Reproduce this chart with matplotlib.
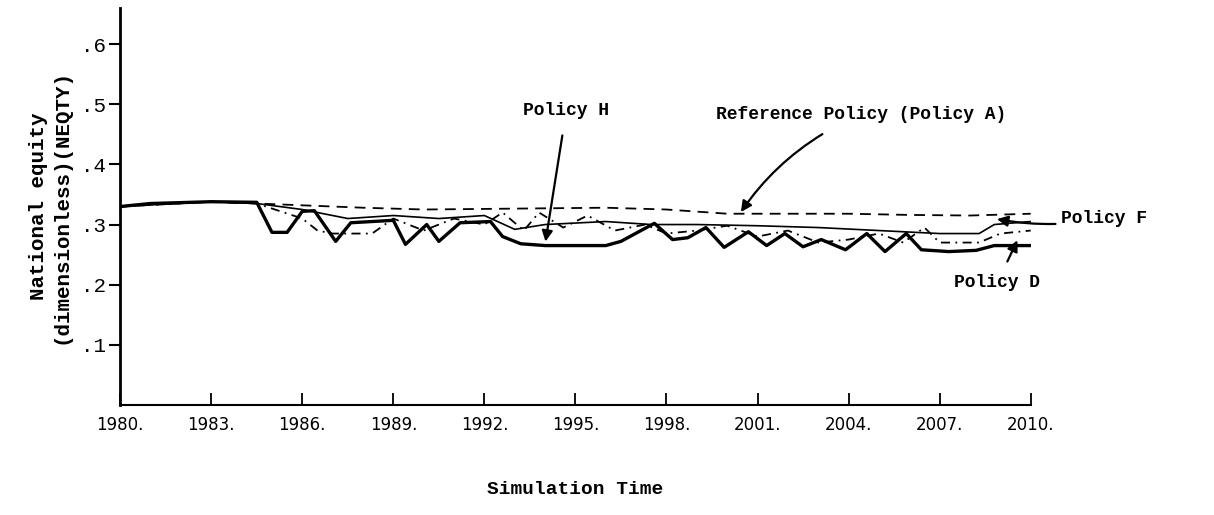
import matplotlib
matplotlib.use("Agg")
from matplotlib import pyplot as plt

# years and values
years_a = [1980, 1983, 1984.5, 1986, 1988, 1990, 1992, 1994, 1996, 1998, 2000, 2002, 2004, 2006, 2008, 2010]
pol_a = [0.330, 0.338, 0.335, 0.332, 0.328, 0.325, 0.326, 0.327, 0.328, 0.325, 0.318, 0.318, 0.318, 0.316, 0.315, 0.318]

years_f = [1980, 1983, 1984.5, 1986, 1987.5, 1989, 1990.5, 1992, 1993, 1994, 1996, 1997.5, 1999,
           2001, 2003, 2005, 2007, 2008.3, 2008.8, 2010]
pol_f = [0.330, 0.338, 0.335, 0.325, 0.310, 0.315, 0.310, 0.315, 0.292, 0.300, 0.305, 0.300, 0.300,
         0.298, 0.295, 0.290, 0.285, 0.285, 0.300, 0.305]

years_h = [1980, 1983, 1984.5, 1986, 1986.5, 1987, 1988.3, 1989, 1990, 1991, 1992, 1992.6, 1993.3,
           1993.8, 1994.6, 1995.4, 1996.3, 1997.3, 1998, 1999, 2000, 2001, 2002, 2003, 2004,
           2005, 2005.8, 2006.5, 2007, 2008.3, 2009, 2010]
pol_h = [0.330, 0.338, 0.335, 0.310, 0.290, 0.285, 0.285, 0.310, 0.290, 0.310, 0.300, 0.320, 0.290,
         0.320, 0.295, 0.315, 0.290, 0.300, 0.285, 0.290, 0.298, 0.280, 0.290, 0.270, 0.275,
         0.285, 0.270, 0.295, 0.270, 0.270, 0.285, 0.290]

years_d = [1980, 1981, 1983, 1984.5, 1985, 1985.5, 1986, 1986.4, 1987.1, 1987.6, 1989.0, 1989.4,
           1990.1, 1990.5, 1991.2, 1992.2, 1992.6, 1993.2, 1994, 1996, 1996.5, 1997.6, 1998.2,
           1998.7, 1999.3, 1999.9, 2000.7, 2001.3, 2001.9, 2002.5, 2003.1, 2003.9, 2004.6,
           2005.2, 2005.9, 2006.4, 2007.3, 2008.2, 2008.8, 2010]
pol_d = [0.330, 0.335, 0.338, 0.337, 0.287, 0.287, 0.322, 0.323, 0.272, 0.303, 0.307, 0.267,
         0.300, 0.272, 0.303, 0.305, 0.280, 0.268, 0.265, 0.265, 0.272, 0.302, 0.275,
         0.278, 0.295, 0.262, 0.288, 0.265, 0.285, 0.263, 0.275, 0.258, 0.285,
         0.255, 0.285, 0.258, 0.255, 0.257, 0.265, 0.265]

xticks = [1980, 1983, 1986, 1989, 1992, 1995, 1998, 2001, 2004, 2007, 2010]
yticks = [0.1, 0.2, 0.3, 0.4, 0.5, 0.6]

mono = "Liberation Mono"

fig = plt.figure(figsize=(12.14, 5.15), dpi=100)
ax = fig.add_axes([0.099, 0.214, 0.75, 0.77])

ax.plot(years_a, pol_a, color="black", lw=1.3, ls=(0, (6, 4)))
ax.plot(years_f, pol_f, color="black", lw=1.2)
ax.plot(years_h, pol_h, color="black", lw=1.3, ls=(0, (5, 3, 1, 3)))
ax.plot(years_d, pol_d, color="black", lw=2.4)

ax.set_xlim(1980, 2010)
ax.set_ylim(0, 0.66)
ax.spines["top"].set_visible(False)
ax.spines["right"].set_visible(False)
ax.spines["left"].set_linewidth(2)
ax.spines["bottom"].set_linewidth(1.5)

ax.set_xticks(xticks)
ax.set_xticklabels([str(x) + "." for x in xticks],
                   family=["Liberation Sans Narrow", "DejaVu Sans"], fontsize=12)
ax.tick_params(axis="x", direction="in", length=9, width=1.3, pad=8)
ax.set_yticks(yticks)
ax.set_yticklabels(["." + str(int(round(v * 10))) for v in yticks], family=mono, fontsize=15)
ax.tick_params(axis="y", direction="out", length=8, width=1.5, pad=2)

ax.set_ylabel("National equity\n(dimensionless)(NEQTY)", family=mono, fontsize=15,
              fontweight="bold", labelpad=8)
ax.set_xlabel("Simulation Time", family=mono, fontsize=14, fontweight="bold", labelpad=34)

arrow = dict(arrowstyle="-|>", color="black", lw=1.6, mutation_scale=16)
ax.annotate("Policy H", xy=(1994.0, 0.267), xytext=(1994.7, 0.49), ha="center", va="center",
            family=mono, fontsize=13, fontweight="bold", arrowprops=dict(arrow, shrinkA=10))
ax.annotate("Reference Policy (Policy A)", xy=(2000.4, 0.317), xytext=(2004.4, 0.483),
            ha="center", va="center", family=mono, fontsize=13, fontweight="bold",
            arrowprops=dict(arrow, shrinkA=12, connectionstyle="arc3,rad=0.15"))
ax.annotate("Policy F", xy=(2008.8, 0.31), xytext=(2011.0, 0.31), ha="left", va="center",
            family=mono, fontsize=13, fontweight="bold", annotation_clip=False,
            arrowprops=dict(arrow, shrinkA=2, connectionstyle="arc3,rad=-0.1"))
ax.annotate("Policy D", xy=(2009.6, 0.278), xytext=(2008.9, 0.203), ha="center", va="center",
            family=mono, fontsize=13, fontweight="bold", annotation_clip=False,
            arrowprops=dict(arrow, shrinkA=8))

fig.savefig("out.png", dpi=100)
